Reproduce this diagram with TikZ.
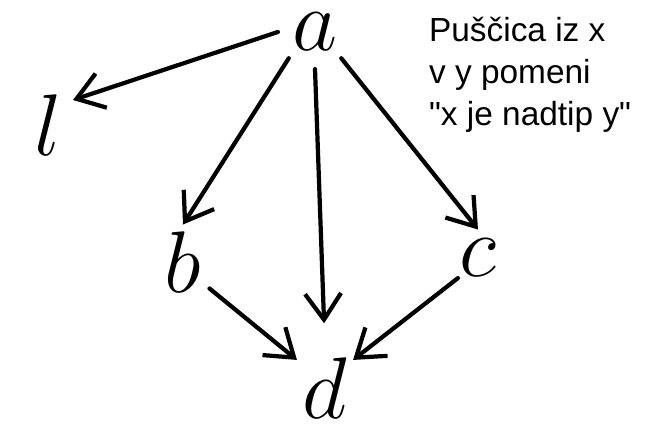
\documentclass[tikz,border=0pt]{standalone}
\usepackage{fontspec}
\setsansfont{Liberation Sans}[Ligatures=TeXOff]
\usetikzlibrary{arrows.meta,positioning}
\tikzset{
  every picture/.style={line width=1.2pt},
  type node/.style={circle, minimum size=5mm, inner sep=0pt,
    font=\fontsize{26}{30}\selectfont},
  type arrow/.style={-{Straight Barb[length=2.6mm,width=3.6mm,line width=1.2pt]},
    line cap=round},
  note/.style={font=\sffamily\fontsize{9.5}{12}\selectfont, align=left,
    anchor=north west, inner sep=0pt}
}

\begin{document}
\begin{tikzpicture}[x=0.01cm,y=-0.01cm]
  \useasboundingbox (0,0) rectangle (648,425);
  % types
  \node[type node, minimum size=7mm] (a) at (315,32) {$a$};
  \node[type node] (l) at (48,125) {$l$};
  \node[type node] (b) at (183,262) {$b$};
  \node[type node] (c) at (478,258) {$c$};
  \node[type node, minimum size=6mm] (d) at (325,388) {$d$};
  % explanation
  \node[note] (txt) at (427,15) {Puščica iz x\\v y pomeni\\"x je nadtip y"};
  % supertype arrows
  \draw[type arrow] (a.west) -- (l.north east);
  \draw[type arrow] (a.south west) -- (b.north);
  \draw[type arrow,shorten >=2.5mm] (a.south) -- (d.north);
  \draw[type arrow] (a.south east) -- (c.north);
  \draw[type arrow] (b.south east) -- (d.north west);
  \draw[type arrow] (c.south west) -- (d.north east);
\end{tikzpicture}
\end{document}
